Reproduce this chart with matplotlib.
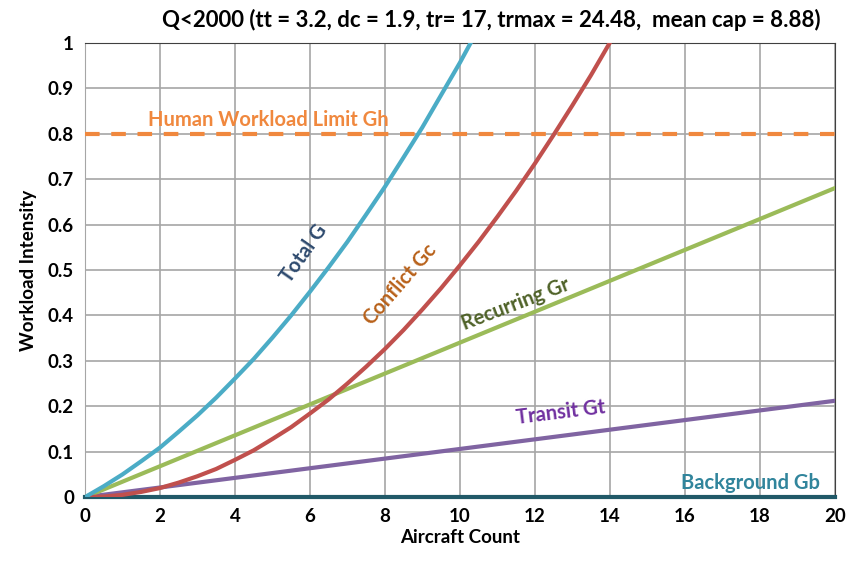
import matplotlib
matplotlib.use('Agg')
import matplotlib.pyplot as plt
import numpy as np

plt.rcParams['font.family'] = ['Lato', 'DejaVu Sans']

# values (every half aircraft)
x_total = [0, 0.5, 1, 1.5, 2, 2.5, 3, 3.5, 4, 4.5, 5, 5.5, 6, 6.5, 7, 7.5, 8,
           8.5, 9, 9.5, 10, 10.5]
total_g = [0, 0.024, 0.05, 0.079, 0.109, 0.144, 0.18, 0.219, 0.261, 0.304, 0.351,
           0.40, 0.452, 0.506, 0.562, 0.622, 0.683, 0.748, 0.814, 0.885, 0.956, 1.032]
x_conf = [0, 0.5, 1, 1.5, 2, 2.5, 3, 3.5, 4, 4.5, 5, 5.5, 6, 6.5, 7, 7.5, 8, 8.5,
          9, 9.5, 10, 10.5, 11, 11.5, 12, 12.5, 13, 13.5, 14, 14.5]
conflict_gc = [0, 0.0013, 0.005, 0.0115, 0.02, 0.032, 0.046, 0.062, 0.082, 0.103,
               0.128, 0.154, 0.184, 0.215, 0.25, 0.287, 0.326, 0.368, 0.413, 0.46,
               0.51, 0.562, 0.617, 0.674, 0.734, 0.797, 0.862, 0.929, 1.0, 1.07]
x_lin = [0, 20]
recurring_gr = [0, 0.68]
transit_gt = [0, 0.212]
background_gb = [0, 0]
human_gh = 0.8

title = 'Q<2000 (tt = 3.2, dc = 1.9, tr= 17, trmax = 24.48,  mean cap = 8.88)'

fig = plt.figure(figsize=(8.5, 5.63), dpi=100)
ax = fig.add_axes([0.1, 0.117, 0.882, 0.807])

ax.plot(x_lin, [human_gh, human_gh], color='#F0883E', lw=3, ls=(0, (3.5, 2.8)), zorder=3)
ax.plot(x_lin, background_gb, color='#215968', lw=3, zorder=4, clip_on=False)
ax.plot(x_lin, transit_gt, color='#8064A2', lw=3, zorder=4)
ax.plot(x_lin, recurring_gr, color='#9BBB59', lw=3, zorder=4)
ax.plot(x_conf, conflict_gc, color='#C0504D', lw=3, zorder=4)
ax.plot(x_total, total_g, color='#4BACC6', lw=3, zorder=5)

ax.set_xlim(0, 20)
ax.set_ylim(0, 1)
ax.set_xticks(np.arange(0, 21, 2))
ax.set_yticks(np.arange(0, 1.01, 0.1))
ax.set_yticklabels(['0', '0.1', '0.2', '0.3', '0.4', '0.5', '0.6', '0.7', '0.8', '0.9', '1'])
ax.grid(True, color='#A6A6A6', lw=1.2)
ax.tick_params(length=0, labelsize=13.5, pad=8)
for lab in ax.get_xticklabels() + ax.get_yticklabels():
    lab.set_fontweight('bold')
for s in ['top', 'right']:
    ax.spines[s].set_color('#404040')
ax.spines['left'].set_color('#A6A6A6')
ax.spines['bottom'].set_visible(False)

ax.set_xlabel('Aircraft Count', fontsize=13.5, fontweight='bold', labelpad=3)
ax.set_ylabel('Workload Intensity', fontsize=13.5, fontweight='bold', labelpad=8)
fig.text(0.578, 0.965, title, fontsize=16, fontweight='bold', ha='center', va='center')

ax.text(4.9, 0.808, 'Human Workload Limit Gh', color='#F0883E', fontsize=14.5,
        fontweight='bold', ha='center', va='bottom')
ax.text(5.85, 0.535, 'Total G', color='#2E4A6E', fontsize=14.5, fontweight='bold',
        rotation=55, ha='center', va='center')
ax.text(8.4, 0.468, 'Conflict Gc', color='#B8611A', fontsize=14.5, fontweight='bold',
        rotation=49, ha='center', va='center')
ax.text(11.5, 0.425, 'Recurring Gr', color='#4F6228', fontsize=14.5, fontweight='bold',
        rotation=21, ha='center', va='center')
ax.text(12.7, 0.187, 'Transit Gt', color='#7030A0', fontsize=14.5, fontweight='bold',
        rotation=7, ha='center', va='center')
ax.text(17.75, 0.03, 'Background Gb', color='#31859C', fontsize=14.5, fontweight='bold',
        ha='center', va='center')

fig.savefig('out.png', dpi=100)
